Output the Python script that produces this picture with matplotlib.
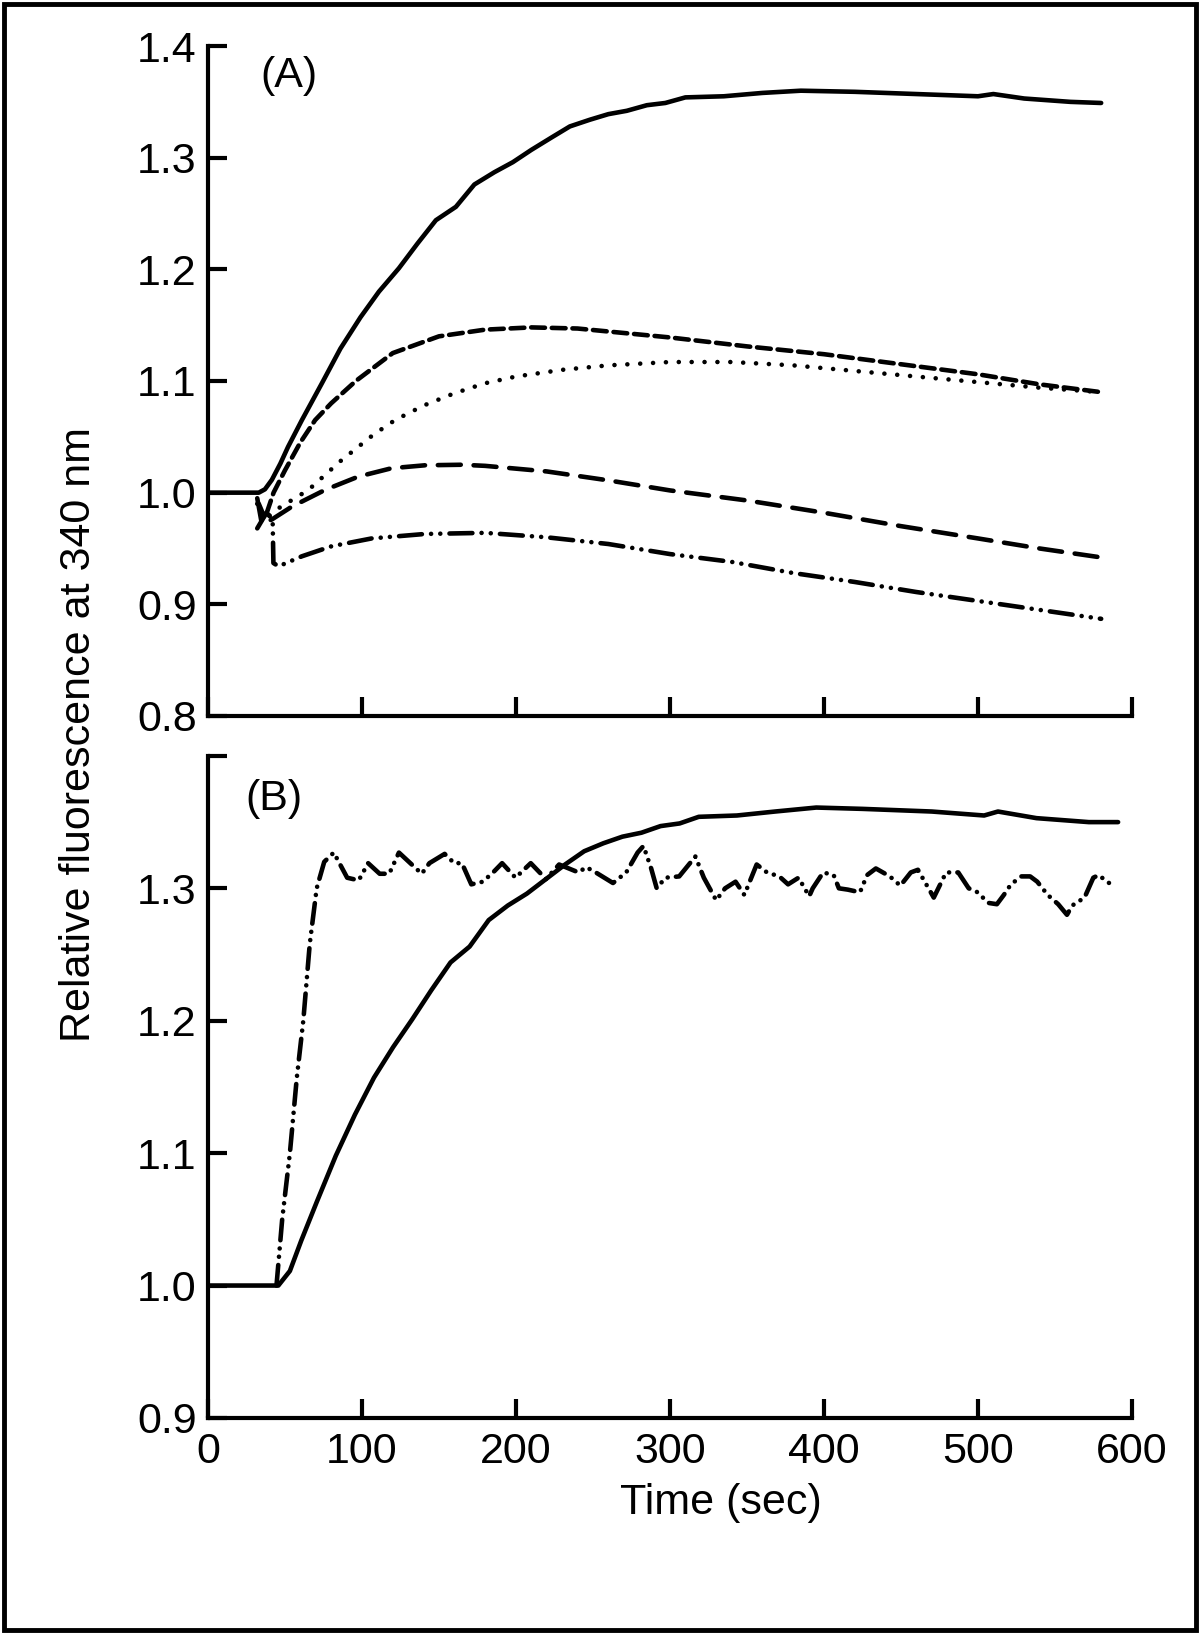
"""Relative fluorescence at 340 nm vs time, panels (A) and (B)."""
import matplotlib
matplotlib.use("Agg")
import matplotlib.pyplot as plt
from matplotlib.patches import Rectangle

plt.rcParams["font.family"] = ["Liberation Sans", "DejaVu Sans"]

# ---- panel A -------------------------------------------------------------
a_solid_t = [0, 33, 37, 41.5, 47, 52, 61, 74, 86, 99, 111, 124, 136, 148, 161, 173, 186,
             198, 210, 223, 235, 248, 260, 272, 285, 297, 310, 335, 360, 385, 420, 460,
             500, 510, 530, 560, 580]
a_solid_y = [1.0, 1.0, 1.003, 1.0115, 1.026, 1.041, 1.065, 1.098, 1.129, 1.157, 1.18, 1.201,
             1.223, 1.244, 1.256, 1.276, 1.287, 1.296, 1.307, 1.318, 1.328, 1.334, 1.339,
             1.342, 1.347, 1.349, 1.354, 1.355, 1.358, 1.36, 1.359, 1.357, 1.355, 1.357,
             1.353, 1.35, 1.349]

a_dense_t = [33, 37, 42.6, 50, 60, 69.6, 80, 96, 120, 150, 180, 210, 240, 270, 300, 350,
             400, 450, 500, 540, 580]
a_dense_y = [0.99, 0.977, 1.0, 1.02, 1.045, 1.065, 1.08, 1.10, 1.125, 1.14, 1.146, 1.148,
             1.147, 1.143, 1.139, 1.131, 1.124, 1.115, 1.106, 1.097, 1.09]

a_dot_t = [32, 36, 45.8, 65.3, 85.8, 107.5, 121.5, 140, 160, 180, 200, 230, 260, 300, 340,
           380, 420, 460, 500, 540, 580]
a_dot_y = [0.99, 0.975, 0.986, 1.0025, 1.028, 1.052, 1.065, 1.078, 1.089, 1.098, 1.104,
           1.11, 1.114, 1.117, 1.117, 1.114, 1.109, 1.104, 1.099, 1.094, 1.09]

a_dash_t = [32, 35, 41.5, 54.5, 76.1, 97.7, 119.3, 140.9, 165, 180, 220, 260, 300, 350,
            400, 450, 500, 540, 580]
a_dash_y = [0.995, 0.972, 0.976, 0.9875, 1.0025, 1.0144, 1.0219, 1.0245, 1.025, 1.024,
            1.019, 1.011, 1.002, 0.993, 0.982, 0.97, 0.959, 0.95, 0.942]

a_ddot_t = [32, 38, 42, 42.5, 45.8, 61, 80.3, 106.3, 140.9, 180, 220, 260, 300, 340, 380,
            420, 460, 500, 540, 580]
a_ddot_y = [0.968, 0.982, 0.976, 0.937, 0.934, 0.943, 0.952, 0.959, 0.963, 0.964, 0.96,
            0.954, 0.945, 0.938, 0.928, 0.92, 0.911, 0.903, 0.895, 0.887]

# ---- panel B -------------------------------------------------------------
b_solid_t = [0, 45.7, 53.2, 60.6, 70.6, 83, 95.4, 107.8, 120.2, 132.6, 145, 157.5, 169.9,
             182.3, 194.7, 207.1, 219.5, 231.9, 244.3, 256.7, 269.1, 281.5, 293.9, 306.3,
             318.7, 343.5, 368.3, 395, 425, 470, 504, 513, 538, 572, 591]
b_solid_y = [1.0, 1.0, 1.011, 1.034, 1.063, 1.098, 1.129, 1.157, 1.18, 1.201, 1.223, 1.244,
             1.256, 1.276, 1.287, 1.296, 1.307, 1.318, 1.328, 1.334, 1.339, 1.342, 1.347,
             1.349, 1.354, 1.355, 1.358, 1.361, 1.36, 1.358, 1.355, 1.358, 1.353, 1.35, 1.35]

b_fast_t = [44.5, 48.2, 53.2, 57.7, 61.9, 66.1, 70.6, 75.5, 81.7, 90.4, 97.9, 104, 111.5,
            117.7, 124, 131.4, 138.8, 143.8, 153.7, 159.9, 164.9, 171, 178.5, 186, 191,
            199.7, 209.6, 219.5, 228, 240.6, 245.6, 251.8, 263, 271.6, 279, 282.8, 287.8,
            291.4, 297, 306, 316.5, 322, 330, 335.8, 342.6, 348.3, 356.3, 363, 371, 376.7,
            383.5, 390.4, 392.7, 399.5, 406.3, 409.7, 415.5, 423.4, 428, 433.7, 442.8,
            449.6, 456.4, 461, 467.9, 471.3, 479.3, 487.2, 494, 499.8, 506.6, 512.3, 516.8,
            521.4, 528.2, 533.9, 538.5, 545.3, 552.1, 557.8, 561.2, 569.2, 574.9, 578.3,
            586.3]
b_fast_y = [1.0, 1.05, 1.1, 1.157, 1.2, 1.258, 1.3, 1.32, 1.327, 1.308, 1.306, 1.319, 1.311,
            1.311, 1.327, 1.319, 1.311, 1.319, 1.326, 1.319, 1.319, 1.303, 1.305, 1.313,
            1.319, 1.308, 1.319, 1.307, 1.318, 1.312, 1.316, 1.312, 1.304, 1.312, 1.327,
            1.332, 1.315, 1.3, 1.308, 1.309, 1.324, 1.308, 1.291, 1.30, 1.305, 1.295, 1.318,
            1.312, 1.309, 1.303, 1.308, 1.294, 1.30, 1.312, 1.31, 1.30, 1.299, 1.297, 1.31,
            1.315, 1.309, 1.302, 1.312, 1.314, 1.30, 1.293, 1.312, 1.312, 1.30, 1.297, 1.289,
            1.288, 1.295, 1.303, 1.309, 1.309, 1.305, 1.295, 1.288, 1.28, 1.287, 1.293,
            1.308, 1.31, 1.303]

x_ticks = [0, 100, 200, 300, 400, 500, 600]
a_yticks = [0.8, 0.9, 1.0, 1.1, 1.2, 1.3, 1.4]
b_yticks = [0.9, 1.0, 1.1, 1.2, 1.3, 1.4]
b_ylabels = ["0.9", "1.0", "1.1", "1.2", "1.3", ""]

FS = 31
LW = 3.3
DOT = 0.01  # near-zero dash, drawn as a round dot


def style_axes(ax):
    for side in ("top", "right"):
        ax.spines[side].set_visible(False)
    for side in ("left", "bottom"):
        ax.spines[side].set_linewidth(3)
    ax.tick_params(direction="in", length=14, width=3, labelsize=FS, pad=8)
    ax.set_xlim(0, 600)
    ax.set_xticks(x_ticks)


fig = plt.figure(figsize=(12, 16.44), dpi=100)
axA = fig.add_axes([0.1733, 0.5645, 0.770, 0.4075])
axB = fig.add_axes([0.1733, 0.1375, 0.770, 0.4027])

kw = dict(color="black", lw=LW, dash_capstyle="round", solid_capstyle="round",
          solid_joinstyle="round")

# panel A
axA.plot(a_solid_t, a_solid_y, **kw)
axA.plot(a_dense_t, a_dense_y, dashes=(3.0, 1.5), **kw)
axA.plot(a_dot_t, a_dot_y, dashes=(DOT, 2.8), **kw)
axA.plot(a_dash_t, a_dash_y, dashes=(5.0, 2.8), **kw)
axA.plot(a_ddot_t, a_ddot_y, dashes=(5.0, 2.0, DOT, 2.0, DOT, 2.0), **kw)
style_axes(axA)
axA.set_ylim(0.8, 1.4)
axA.set_yticks(a_yticks)
axA.set_yticklabels([f"{v:.1f}" for v in a_yticks])
axA.set_xticklabels([])
axA.text(0.057, 0.955, "(A)", transform=axA.transAxes, fontsize=FS, va="center")

# panel B
axB.plot(b_solid_t, b_solid_y, **kw)
axB.plot(b_fast_t, b_fast_y, dashes=(4.5, 1.8, DOT, 1.8, DOT, 1.8), **kw)
style_axes(axB)
axB.set_ylim(0.9, 1.4)
axB.set_yticks(b_yticks)
axB.set_yticklabels(b_ylabels)
axB.tick_params(axis="x", pad=10)
axB.text(0.04, 0.935, "(B)", transform=axB.transAxes, fontsize=FS, va="center")

fig.text(0.601, 1 - 1503 / 1644, "Time (sec)", fontsize=FS, ha="center", va="center")
fig.text(0.066, 1 - 734 / 1644, "Relative fluorescence at 340 nm", fontsize=FS,
         rotation=90, ha="center", va="center")

# outer frame
fig.patches.append(Rectangle((0.003, 0.0085), 0.9937, 0.989, transform=fig.transFigure,
                             fill=False, lw=3.5, edgecolor="black"))

fig.savefig("out.png", dpi=100)
